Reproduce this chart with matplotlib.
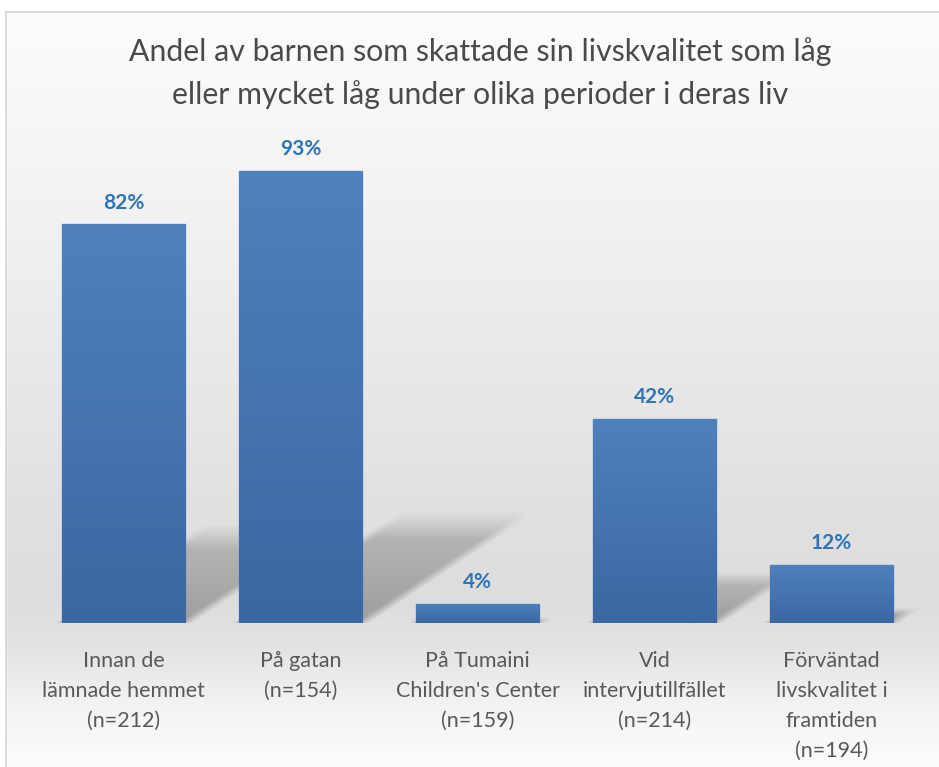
import numpy as np
import matplotlib.pyplot as plt
from matplotlib.patches import Rectangle

categories = ["Innan de\nlämnade hemmet\n(n=212)",
              "På gatan\n(n=154)",
              "På Tumaini\nChildren's Center\n(n=159)",
              "Vid\nintervjutillfället\n(n=214)",
              "Förväntad\nlivskvalitet i\nframtiden\n(n=194)"]
values = [82, 93, 4, 42, 12]
title = "Andel av barnen som skattade sin livskvalitet som låg\neller mycket låg under olika perioder i deras liv"

W, H = 939, 767
fig = plt.figure(figsize=(W / 100, H / 100), dpi=100)

# background gradient for the chart area
bg = fig.add_axes([0, 0, 1, 1], zorder=-10)
bg.set_axis_off()
ys = np.array([0, 12, 150, 350, 500, 600, 650, 700, 767])
gs = np.array([255, 253, 245, 234, 225, 221, 228, 242, 253]) / 255
col = np.interp(np.arange(H), ys, gs)
img = np.repeat(col[:, None], 4, axis=1)
img = np.dstack([img, img, img])
bg.imshow(img, aspect="auto", extent=[0, 1, 0, 1], origin="upper")
bg.set_xlim(0, 1)
bg.set_ylim(0, 1)
# white strip outside the chart frame
bg.add_patch(Rectangle((0, 0), 6 / W, 1, color="white", zorder=2))
bg.add_patch(Rectangle((0, 1 - 12 / H), 1, 12 / H, color="white", zorder=2))
bg.plot([6 / W, 6 / W], [0, 1 - 12 / H], color="#d4d4d4", lw=1.2, zorder=3)
bg.plot([6 / W, 1], [1 - 12 / H, 1 - 12 / H], color="#d4d4d4", lw=1.2, zorder=3)

ax = fig.add_axes([35 / W, (H - 623) / H, 885 / W, 486 / H])
ax.patch.set_alpha(0)
ax.set_xlim(-0.5, 4.5)
ax.set_ylim(0, 100)
width = 0.70

# soft perspective shadows behind the bars
gx = np.linspace(-0.5, 4.5, 900)
gy = np.linspace(0, 30, 300)
XX, YY = np.meshgrid(gx, gy)
alpha = np.zeros_like(XX)
for i, v in enumerate(values):
    hs = 0.23 * v
    shift = 0.0095 * v
    u = XX - shift * (YY / max(hs, 1e-6))
    x0, x1 = i - width / 2, i + width / 2
    soft = 0.08
    mx = np.clip((u - x0) / soft + 0.5, 0, 1) * np.clip((x1 - u) / soft + 0.5, 0, 1)
    my = np.clip((hs - YY) / (0.25 * hs + 0.5) + 0.3, 0, 1)
    a = mx * my * (1 - 0.4 * YY / max(hs, 1e-6))
    alpha = np.maximum(alpha, a)
sh = np.zeros(XX.shape + (4,))
sh[..., :3] = 0.42
sh[..., 3] = 0.55 * np.clip(alpha, 0, 1)
ax.imshow(sh, extent=[-0.5, 4.5, 0, 30], origin="lower", aspect="auto", zorder=1, interpolation="bilinear")

# bars with a vertical gradient
top_c = np.array([0x4f, 0x81, 0xbd]) / 255
bot_c = np.array([0x3b, 0x67, 0xa2]) / 255
bars = ax.bar(range(len(values)), values, width=width, color="#4677b4",
              edgecolor="#5d8cc6", linewidth=1, zorder=2)
for b in bars:
    t = np.linspace(0, 1, 100)[:, None]
    g = bot_c + (top_c - bot_c) * t
    g = np.repeat(g[:, None, :], 2, axis=1)
    im = ax.imshow(g, extent=[b.get_x(), b.get_x() + b.get_width(), 0, b.get_height()],
                   origin="lower", aspect="auto", zorder=2.5)
    im.set_clip_path(b)

for i, v in enumerate(values):
    ax.text(i, v + 2.4, f"{v}%", ha="center", va="bottom", fontsize=15,
            fontweight="bold", color="#2f74b5", family="Lato", zorder=4)

ax.set_xticks(range(len(values)))
ax.set_xticklabels(categories, fontsize=15.5, color="#595959", family="Lato", linespacing=1.62)
ax.tick_params(axis="x", length=0, pad=20)
ax.set_yticks([])
for s in ax.spines.values():
    s.set_visible(False)

fig.text(480 / W, 1 - 73 / H, title, ha="center", va="center", fontsize=21.8,
         color="#4a4a4a", family="Lato", linespacing=1.55)

fig.savefig("out.png", dpi=100)
